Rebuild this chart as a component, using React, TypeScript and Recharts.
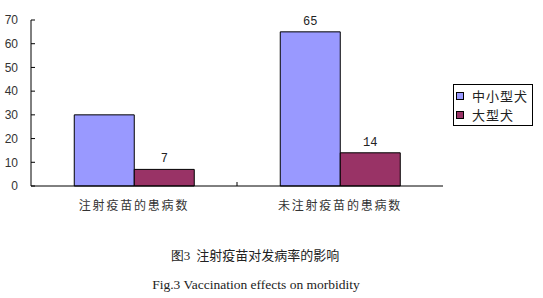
import React from "react";
import { BarChart, Bar, XAxis, YAxis, LabelList } from "recharts";

const categories = ["注射疫苗的患病数", "未注射疫苗的患病数"];
const smallDogs = [30, 65];
const largeDogs = [7, 14];
const yTicks = [0, 10, 20, 30, 40, 50, 60, 70];
// the first blue value label is hidden in the picture
const smallLabelShown = [false, true];
const largeLabelShown = [true, true];

const series = [
  { key: "small", name: "中小型犬", color: "#9999FF", shown: smallLabelShown },
  { key: "large", name: "大型犬", color: "#993366", shown: largeLabelShown },
];

const data = categories.map((c, i) => ({ name: c, small: smallDogs[i], large: largeDogs[i] }));

const CJK = '"Noto Sans CJK SC", "Noto Sans", sans-serif';

function CategoryTick(props: any) {
  const { x, y, payload, index } = props;
  const edge = x - (payload?.offset ?? 0);
  return (
    <g>
      {index > 0 && <line x1={edge} x2={edge} y1={y} y2={y - 4} stroke="#000" />}
      <text
        x={x}
        y={y + 24}
        textAnchor="middle"
        fontSize={12}
        letterSpacing={1.8}
        fill="#333"
        fontFamily={CJK}
      >
        {payload.value}
      </text>
    </g>
  );
}

function LegendBox() {
  return (
    <div
      style={{
        position: "absolute",
        left: 453,
        top: 84,
        border: "1px solid #000",
        background: "#fff",
        padding: "1px 4px 1px 2px",
        fontFamily: CJK,
        fontSize: 13,
        letterSpacing: 1,
        color: "#222",
        lineHeight: "19px",
      }}
    >
      {series.map((s) => (
        <div key={s.key} style={{ display: "flex", alignItems: "center", whiteSpace: "nowrap" }}>
          <span
            style={{
              display: "inline-block",
              width: 6,
              height: 6,
              background: s.color,
              border: "1px solid #000",
              marginRight: 8,
            }}
          />
          {s.name}
        </div>
      ))}
    </div>
  );
}

export default function App() {
  return (
    <div style={{ position: "absolute", left: 0, top: 0, width: 543, height: 298, background: "#fff" }}>
      <BarChart
        width={543}
        height={215}
        data={data}
        margin={{ top: 20, right: 100, bottom: 0, left: 0 }}
        barCategoryGap="21%"
        barGap={0}
      >
        <XAxis
          dataKey="name"
          height={29}
          axisLine={{ stroke: "#000" }}
          tickLine={false}
          tickSize={0}
          tickMargin={0}
          tick={<CategoryTick />}
          interval={0}
        />
        <YAxis
          width={31}
          domain={[0, 70]}
          ticks={yTicks}
          interval={0}
          axisLine={{ stroke: "#000" }}
          tickLine={{ stroke: "#000" }}
          tickSize={-4}
          tickMargin={17}
          tick={{ fill: "#333", fontSize: 12, fontFamily: "Liberation Sans, sans-serif" }}
        />
        {series.map((s) => (
          <Bar
            key={s.key}
            dataKey={s.key}
            name={s.name}
            fill={s.color}
            stroke="#000"
            strokeWidth={1}
            isAnimationActive={false}
          >
            <LabelList
              dataKey={s.key}
              content={(p: any) =>
                s.shown[p.index] ? (
                  <text
                    x={p.x + p.width / 2}
                    y={p.y - 7}
                    textAnchor="middle"
                    fontSize={12}
                    fill="#222"
                    fontFamily='"Liberation Mono", monospace'
                  >
                    {p.value}
                  </text>
                ) : null
              }
            />
          </Bar>
        ))}
      </BarChart>
      <LegendBox />
      <div
        style={{
          position: "absolute",
          left: 0,
          width: 510,
          top: 245,
          textAlign: "center",
          fontFamily: CJK,
          fontSize: 13,
          color: "#222",
        }}
      >
        <span style={{ fontFamily: '"Liberation Serif", serif' }}>图3</span>&nbsp; 注射疫苗对发病率的影响
      </div>
      <div
        style={{
          position: "absolute",
          left: 0,
          width: 512,
          top: 277,
          textAlign: "center",
          fontFamily: '"Liberation Serif", serif',
          fontSize: 13.5,
          color: "#222",
        }}
      >
        Fig.3 Vaccination effects on morbidity
      </div>
    </div>
  );
}
